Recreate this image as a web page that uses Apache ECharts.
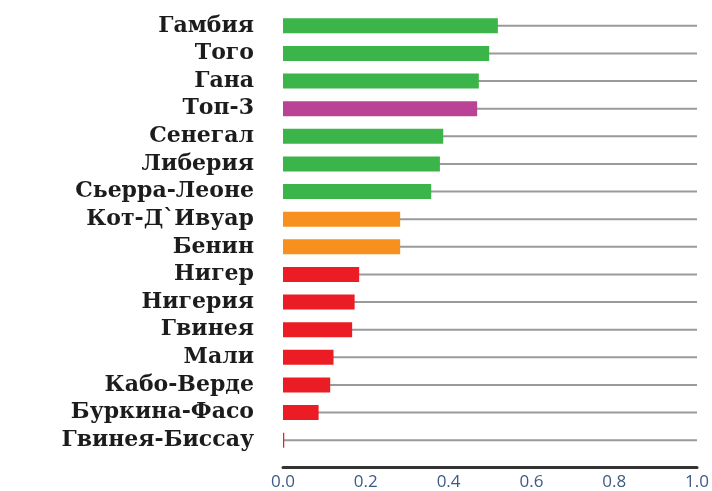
<!DOCTYPE html>
<html>
<head>
<meta charset="utf-8">
<script src="https://cdn.jsdelivr.net/npm/echarts@6/dist/echarts.min.js"></script>
<style>
  body{margin:0;background:#fff;}
  #main{width:712px;height:491px;}
</style>
</head>
<body>
<div id="main"></div>
<script>
  // страны сверху вниз
  var countries = ['Гамбия','Того','Гана','Топ-3','Сенегал','Либерия','Сьерра-Леоне','Кот-Д`Ивуар','Бенин','Нигер','Нигерия','Гвинея','Мали','Кабо-Верде','Буркина-Фасо','Гвинея-Биссау'];
  var values = [0.519,0.498,0.473,0.469,0.387,0.379,0.358,0.283,0.283,0.184,0.173,0.167,0.122,0.114,0.086,0.003];
  var groups = ['g','g','g','t','g','g','g','o','o','r','r','r','r','r','r','r'];
  var fullValue = [1,1,1,1,1,1,1,1,1,1,1,1,1,1,1,1];
  var xTicks = ['0.0','0.2','0.4','0.6','0.8','1.0'];

  var groupColors = {g:'#3bb44a', t:'#bb4396', o:'#f7901e', r:'#ec1c24'};

  var barData = [];
  for (var i = 0; i < values.length; i++) {
    barData.push({value: values[i], itemStyle: {color: groupColors[groups[i]]}});
  }

  var chart = echarts.init(document.getElementById('main'));
  chart.setOption({
    animation: false,
    grid: {left: 283, right: 15, top: 12, bottom: 37},
    xAxis: {
      type: 'value',
      min: 0,
      max: 1,
      interval: 0.2,
      offset: 13,
      axisLine: {show: true, lineStyle: {color: '#333', width: 3}},
      axisTick: {show: false},
      splitLine: {show: false},
      axisLabel: {
        margin: 7,
        color: '#3d5a84',
        fontSize: 17,
        fontFamily: '"Open Sans", sans-serif',
        formatter: function (v) { return xTicks[Math.round(v / 0.2)]; }
      }
    },
    yAxis: [
      {
        type: 'category',
        inverse: true,
        data: countries,
        axisLine: {show: false},
        axisTick: {show: false},
        axisLabel: {
          interval: 0,
          margin: 29,
          color: '#1c1c1c',
          fontSize: 22,
          fontWeight: 'bold',
          fontFamily: '"DejaVu Serif", serif'
        }
      },
      {
        type: 'category',
        inverse: true,
        data: countries,
        show: false
      }
    ],
    series: [
      {
        type: 'bar',
        yAxisIndex: 1,
        data: fullValue,
        barWidth: 2,
        z: 1,
        silent: true,
        itemStyle: {color: '#9a9a9a'}
      },
      {
        type: 'bar',
        yAxisIndex: 0,
        data: barData,
        barWidth: 15,
        z: 3
      }
    ]
  });
</script>
</body>
</html>
